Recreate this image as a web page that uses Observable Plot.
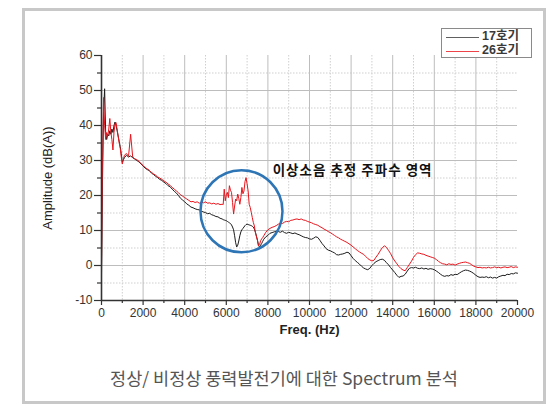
<!DOCTYPE html>
<html>
<head>
<meta charset="utf-8">
<script src="https://cdn.jsdelivr.net/npm/d3@7"></script>
<script src="https://cdn.jsdelivr.net/npm/@observablehq/plot@0.6"></script>
<style>
  html, body { margin: 0; padding: 0; background: #fff; }
  body { width: 559px; height: 412px; position: relative; overflow: hidden; font-family: "Liberation Sans", Arial, sans-serif; }
  #box { position: absolute; left: 22px; top: 8px; width: 524px; height: 396px; border: 3px solid #c8c8c8; box-sizing: border-box; }
  #chart { position: absolute; left: 0; top: 0; }
  #legend { position: absolute; left: 441px; top: 28px; width: 91px; height: 30px; border: 1px solid #8a8a8a; background: #fff; box-sizing: border-box; font-family: "Liberation Sans", "Noto Sans CJK KR", sans-serif; font-size: 12.5px; font-weight: bold; color: #3a3a3a; }
  #legend .row { position: absolute; left: 0; width: 89px; height: 14px; }
  #legend .sw { position: absolute; left: 4px; top: 7px; width: 33px; height: 0; border-top: 1px solid; }
  #legend .lb { position: absolute; left: 40px; top: -2px; line-height: 16px; height: 16px; white-space: nowrap; }
  #caption { position: absolute; left: 22px; width: 524px; top: 366px; text-align: center; font-family: "Noto Sans CJK KR", sans-serif; font-size: 17.5px; color: #555; line-height: 24px; }
</style>
</head>
<body>
<div id="box"></div>
<div id="chart"></div>
<div id="legend"></div>
<div id="caption"></div>
<script>
// ---------- data ----------
const seriesNames = ["17호기", "26호기"];
const seriesColors = ["#1c1c1c", "#e8141c"];

const freq = [
  0, 50, 100, 150, 200, 250, 300, 350, 400, 450, 500, 550, 600, 650, 700, 750, 800, 850, 900, 950, 1000,
  1100, 1200, 1300, 1400, 1500, 1600, 1700, 1800, 1900, 2000,
  2100, 2200, 2300, 2400, 2500, 2600, 2700, 2800, 2900, 3000,
  3100, 3200, 3300, 3400, 3500, 3600, 3700, 3800, 3900, 4000,
  4100, 4200, 4300, 4400, 4500, 4600, 4700, 4800, 4900, 5000,
  5100, 5200, 5300, 5400, 5500, 5600, 5700,
  5800, 5850, 5900, 5950, 6000, 6050, 6100, 6150, 6200, 6250, 6300, 6350, 6400, 6450, 6500, 6550, 6600, 6650, 6700, 6750,
  6800, 6850, 6900, 6950, 7000, 7050, 7100, 7150, 7200, 7250, 7300, 7350, 7400, 7450, 7500, 7550, 7600, 7650, 7700, 7750, 7800,
  7900, 8000, 8100, 8200, 8300, 8400, 8500, 8600, 8700, 8800, 8900, 9000,
  9100, 9200, 9300, 9400, 9500, 9600, 9700, 9800, 9900, 10000,
  10100, 10200, 10300, 10400, 10500, 10600, 10700, 10800, 10900, 11000,
  11100, 11200, 11300, 11400, 11500, 11600, 11700, 11800, 11900, 12000,
  12100, 12200, 12300, 12400, 12500, 12600, 12700, 12800, 12900, 13000,
  13100, 13200, 13300, 13400, 13500, 13600, 13700, 13800, 13900, 14000,
  14100, 14200, 14300, 14400, 14500, 14600, 14700, 14800, 14900, 15000,
  15100, 15200, 15300, 15400, 15500, 15600, 15700, 15800, 15900, 16000,
  16100, 16200, 16300, 16400, 16500, 16600, 16700, 16800, 16900, 17000,
  17100, 17200, 17300, 17400, 17500, 17600, 17700, 17800, 17900, 18000,
  18100, 18200, 18300, 18400, 18500, 18600, 18700, 18800, 18900, 19000,
  19100, 19200, 19300, 19400, 19500, 19600, 19700, 19800, 19900, 20000
];

const amp17 = [
  -3, 25, 44, 50.5, 38, 36, 37.5, 37, 38.5, 37.5, 39, 38, 40, 41, 40, 38.5, 37, 35.5, 34, 32, 29.5,
  30.8, 31.5, 31, 31.3, 30.8, 30.4, 30, 29.6, 29, 28.4,
  27.8, 27.4, 27.1, 26.4, 26, 25.5, 25.1, 24.6, 24.3, 23.8,
  23.4, 22.8, 22.5, 21.8, 21.2, 20.7, 20, 19.2, 18.7, 18.2,
  17.6, 17.2, 16.7, 16.5, 16.2, 16.0, 15.9, 15.5, 15.3, 15.1,
  14.8, 14.9, 14.5, 14.3, 14.0, 13.9, 13.5,
  13.3, 13.1, 13.0, 12.9, 12.8, 12.6, 12.4, 12.2, 12.0, 11.6, 11.0, 10.2, 8.5, 6.5, 5.3, 5.8, 7.0, 8.5, 9.6, 10.2,
  10.6, 11.0, 11.4, 11.7, 11.8, 11.7, 11.6, 11.5, 11.4, 11.2, 11.0, 10.4, 9.5, 8.4, 7.2, 5.6, 5.3, 5.8, 6.3, 6.9, 7.5,
  8.2, 8.6, 9.2, 9.4, 9.6, 9.8, 9.7, 9.5, 9.8, 9.4, 9.2, 9.5,
  9.3, 9.1, 9.3, 9.0, 8.8, 8.5, 8.2, 8.0, 7.9, 7.6,
  7.5, 7.8, 8.2, 8.0, 7.2, 6.3, 5.6, 4.8, 4.4, 4.2,
  3.9, 3.6, 3.1, 3.0, 3.2, 3.3, 3.5, 3.8, 3.6, 2.8,
  2.0, 1.4, 0.9, 0.4, -0.2, -0.7, -1.0, -1.2, -0.8, 0.0,
  0.6, 1.1, 1.4, 1.7, 1.8, 1.5, 0.8, 0.2, -0.6, -1.3,
  -2.0, -2.8, -3.4, -3.1, -3.0, -2.5, -1.6, -0.8, -0.6, -0.7,
  -0.5, -0.8, -0.9, -0.7, -1.0, -0.8, -1.1, -0.9, -1.0, -1.2,
  -1.6, -2.0, -2.5, -2.9, -3.1, -2.9, -3.0, -2.6, -2.8, -2.5,
  -2.6, -2.2, -1.8, -1.5, -1.3, -1.4, -1.6, -1.9, -2.3, -2.8,
  -3.2, -3.4, -3.3, -3.4, -3.2, -3.5, -3.3, -3.6, -3.4, -3.6,
  -3.2, -3.0, -2.8, -2.9, -2.5, -2.6, -2.3, -2.4, -2.1, -2.2
];

const amp26 = [
  -0.5, 30, 48, 40, 36, 38, 37, 39, 42, 38, 36, 33, 38, 40.5, 40.8, 39, 37, 35, 33.5, 31, 29,
  31.5, 32, 31.2, 37.5, 31, 30.5, 30.2, 29.8, 29.1, 28.6,
  28, 27.6, 27.2, 26.6, 26.2, 25.8, 25.3, 25, 24.6, 24.2,
  23.8, 23.3, 22.9, 22.3, 21.8, 21.3, 20.8, 20.2, 19.8, 19.4,
  19, 18.6, 18.2, 18.3, 18, 18.2, 17.8, 18.1, 17.9, 18.2,
  17.8, 17.9, 17.6, 17.8, 17.5, 17.7, 17.4,
  17.5, 17.4, 21.8, 18.5, 20.2, 20.9, 19.4, 22.8, 21.5, 20.9, 18.0, 14.7, 17.0, 19.0, 18.5, 20.4, 19.2, 17.5, 19.4, 22.3,
  20.5, 21.3, 24.0, 25.1, 23.3, 21.3, 17.5, 16.6, 15.2, 13.7, 12.3, 11.3, 9.4, 8.2, 7.1, 5.6, 6.0, 7.1, 7.6, 8.0, 8.5,
  9.5, 10.2, 10.6, 10.9, 11.1, 11.4, 11.8, 12.1, 12.0, 12.4, 12.6, 12.5,
  12.9, 13.0, 13.2, 13.3, 13.1, 13.3, 13.0, 12.9, 12.6, 12.4,
  12.2, 11.9, 11.7, 11.5, 11.1, 10.8, 10.4, 10.1, 9.7, 9.4,
  9.0, 8.6, 8.2, 7.9, 7.5, 7.2, 6.9, 6.6, 6.2, 5.8,
  5.3, 4.8, 4.3, 3.9, 3.5, 3.2, 2.6, 2.0, 1.6, 1.3,
  1.5, 2.4, 3.2, 4.2, 5.1, 5.6, 5.2, 4.3, 3.4, 2.2,
  1.3, 0.5, -0.3, -0.9, -1.3, -1.5, -0.6, 0.3, 1.2, 2.3,
  3.1, 3.6, 3.5, 3.3, 3.2, 2.9, 2.7, 2.5, 2.3, 2.1,
  1.7, 1.2, 0.8, 0.5, 0.4, 0.2, 0.5, 0.3, 0.4, 0.1,
  0.4, 0.6, 0.8, 0.9, 1.0, 0.8, 0.6, 0.2, -0.2, -0.4,
  -0.6, -0.5, -0.7, -0.6, -0.7, -0.5, -0.7, -0.6, -0.4, -0.6,
  -0.5, -0.7, -0.5, -0.4, -0.6, -0.5, -0.3, -0.6, -0.4, -0.5
];

const xMajorTicks = [0, 2000, 4000, 6000, 8000, 10000, 12000, 14000, 16000, 18000, 20000];
const xMinorTicks = [1000, 3000, 5000, 7000, 9000, 11000, 13000, 15000, 17000, 19000];
const xMajorGrid = [2000, 4000, 6000, 8000, 10000, 12000, 14000, 16000, 18000];
const yMajorTicks = [-10, 0, 10, 20, 30, 40, 50, 60];
const yMinorTicks = [-5, 5, 15, 25, 35, 45, 55];
const yMajorGrid = [0, 10, 20, 30, 40, 50];

const xLabel = "Freq. (Hz)";
const yLabel = "Amplitude (dB(A))";
const annoText = "이상소음 추정 주파수 영역";
const annoFreq = 8230;
const annoDb = 27;
const circleFreq = 6730;
const circleDb = 15.5;
const captionText = "정상/ 비정상 풍력발전기에 대한 Spectrum 분석";

// ---------- tables ----------
const rows17 = freq.map((f, i) => ({f, a: amp17[i]}));
const rows26 = freq.map((f, i) => ({f, a: amp26[i]}));

const chart = Plot.plot({
  width: 559,
  height: 345,
  marginLeft: 101,
  marginRight: 42,
  marginTop: 55,
  marginBottom: 45,
  x: {domain: [0, 20000]},
  y: {domain: [-10, 60]},
  style: {fontFamily: '"Liberation Sans", Arial, sans-serif', fontSize: "12px", color: "#333", background: "transparent", overflow: "visible"},
  marks: [
    Plot.ruleX(xMinorTicks, {stroke: "#cfcfcf", strokeDasharray: "1.5,1.5", strokeWidth: 1}),
    Plot.ruleY(yMinorTicks, {stroke: "#cfcfcf", strokeDasharray: "1.5,1.5", strokeWidth: 1}),
    Plot.ruleX(xMajorGrid, {stroke: "#bdbdbd", strokeWidth: 1}),
    Plot.ruleY(yMajorGrid, {stroke: "#bdbdbd", strokeWidth: 1}),
    Plot.axisX(xMajorTicks, {anchor: "bottom", tickSize: 5, tickPadding: 3, stroke: "#333", strokeWidth: 1.2, fill: "#333", label: xLabel, labelAnchor: "center", labelArrow: "none", labelOffset: 33, tickFormat: d => String(d)}),
    Plot.axisX(xMinorTicks, {anchor: "bottom", tickSize: 3, stroke: "#333", strokeWidth: 1.2, tickFormat: () => "", label: null}),
    Plot.axisY(yMajorTicks, {anchor: "left", tickSize: 7, tickPadding: 2, stroke: "#333", strokeWidth: 1.2, fill: "#333", label: yLabel, labelAnchor: "center", labelArrow: "none", labelOffset: 59, tickFormat: d => String(d)}),
    Plot.axisY(yMinorTicks, {anchor: "left", tickSize: 4, stroke: "#333", strokeWidth: 1.2, tickFormat: () => "", label: null}),
    Plot.line(rows17, {x: "f", y: "a", stroke: seriesColors[0], strokeWidth: 1}),
    Plot.line(rows26, {x: "f", y: "a", stroke: seriesColors[1], strokeWidth: 1}),
    Plot.ruleX([0], {stroke: "#333", strokeWidth: 1.6}),
    Plot.ruleY([-10], {stroke: "#333", strokeWidth: 1.6}),
    Plot.dot([{f: circleFreq, a: circleDb}], {x: "f", y: "a", r: 41, stroke: "#2e75b6", strokeWidth: 2.5, fill: "none"}),
    Plot.text([{f: annoFreq, a: annoDb, t: annoText}], {x: "f", y: "a", text: "t", textAnchor: "start", fontWeight: "bold", fontSize: 13.5, fill: "#111", fontFamily: '"Noto Sans CJK KR", sans-serif'})
  ]
});
document.getElementById("chart").appendChild(chart);

// strip any label arrows, style axis labels
d3.select(chart).selectAll('[aria-label="x-axis label"] text, [aria-label="y-axis label"] text')
  .each(function() { const t = this.textContent.replace(/[\u2190-\u2193]/g, "").trim(); this.textContent = t; })
  .style("font-size", "13px").style("fill", "#222");
d3.select(chart).selectAll('[aria-label="x-axis label"] text').style("font-weight", "bold");
d3.select(chart).selectAll('[aria-label="text"] text').style("letter-spacing", "1px");

// legend
const legend = d3.select("#legend");
seriesNames.forEach((name, i) => {
  const row = legend.append("div").attr("class", "row").style("top", (i === 0 ? 1 : 15) + "px");
  row.append("div").attr("class", "sw").style("border-top-color", seriesColors[i]).style("opacity", i === 0 ? 0.7 : 0.8);
  row.append("div").attr("class", "lb").text(name);
});
document.getElementById("caption").textContent = captionText;
</script>
</body>
</html>
